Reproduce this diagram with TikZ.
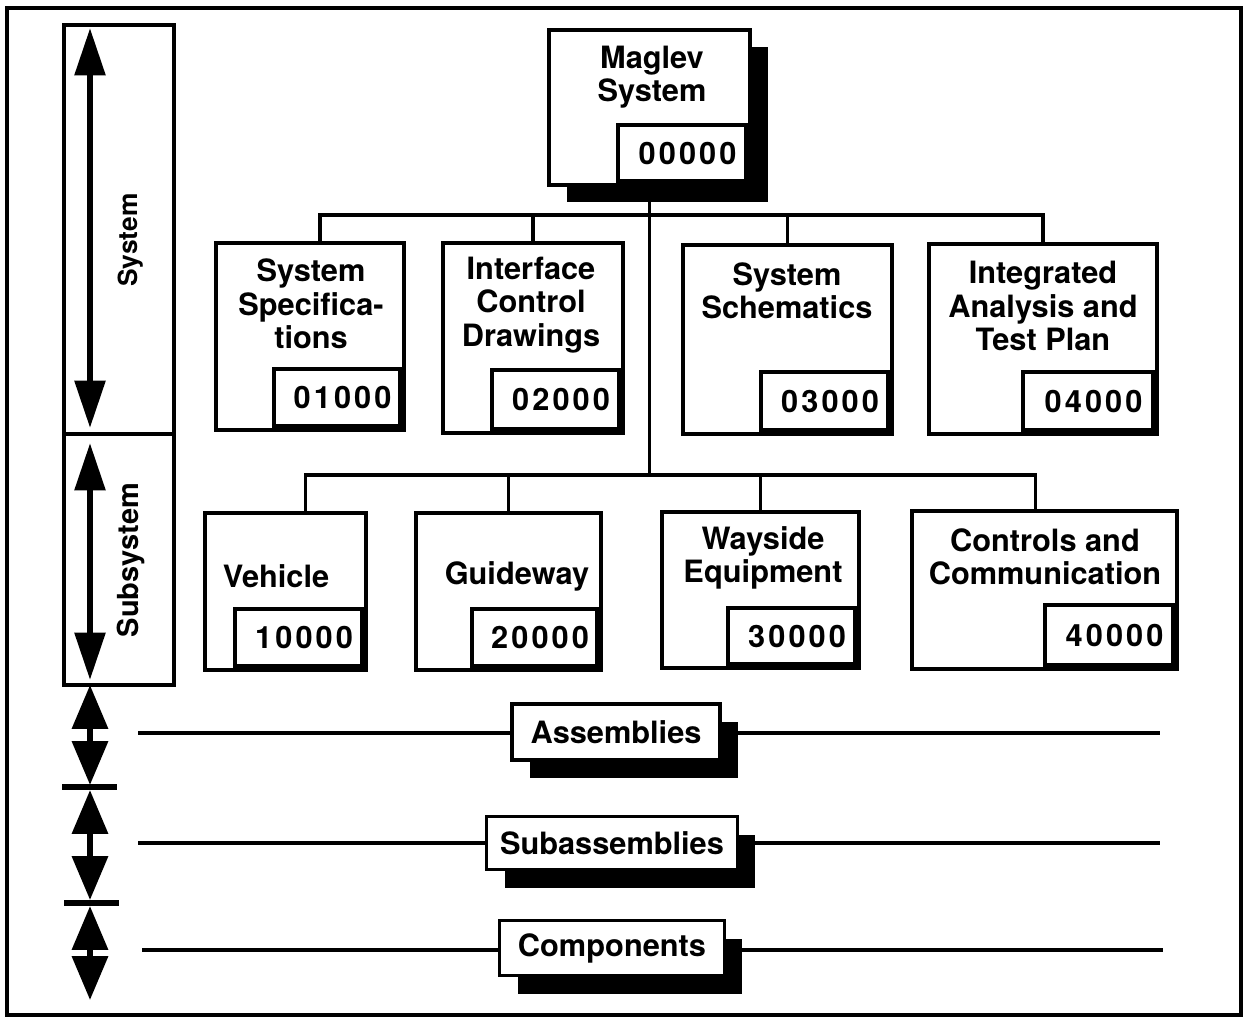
\documentclass[tikz,border=0pt]{standalone}
\usepackage{fontspec}
\setmainfont{TeX Gyre Heros}
\usetikzlibrary{
    arrows.meta,
    shadows
}

\newcommand{\titlefont}{\fontsize{17.5}{19}\selectfont\bfseries}
\newcommand{\numfont}{\fontsize{17.5}{19}\selectfont\bfseries\addfontfeature{LetterSpace=10}}

\tikzset{
    wbsbox/.style={draw, line width=2.2pt, fill=white, anchor=north west, inner sep=0pt},
    numbox/.style={draw, line width=2.2pt, fill=white, anchor=south east, inner sep=0pt, font=\numfont,
        execute at begin node=\hspace*{0.22cm}},
    wbstitle/.style={align=center, font=\titlefont, inner sep=0pt},
    conn/.style={line width=2pt},
    tierbox/.style={draw, line width=2.2pt, fill=white, inner sep=0pt, font=\titlefont,
        drop shadow={shadow xshift=0.36cm, shadow yshift=-0.36cm, fill=black, opacity=1}},
    bigarrow/.style={line width=3.5pt, {Triangle[width=17pt,length=27pt]}-{Triangle[width=17pt,length=27pt]}},
    smallarrow/.style={line width=3.5pt, {Triangle[width=20pt,length=25pt]}-{Triangle[width=20pt,length=25pt]}}
}

\begin{document}
\begin{tikzpicture}[x=0.02cm, y=-0.02cm]

\useasboundingbox (0,0) rectangle (1245,1019);

% Frame
\draw[line width=2.2pt] (7,8) rectangle (1241,1015);

% Level column
\node[wbsbox, minimum width=2.2cm, minimum height=8.18cm] (sysbox) at (62,23) {};
\node[wbsbox, minimum width=2.2cm, minimum height=5.02cm] (subbox) at (62,432) {};
\node[rotate=90, font=\fontsize{15}{17}\selectfont\bfseries] (systxt) at (131,240) {System};
\node[rotate=90, font=\fontsize{16.5}{18}\selectfont\bfseries] (subtxt) at (131,560) {Subsystem};

\coordinate (a1) at (90,28);
\coordinate (a2) at (90,428);
\coordinate (a3) at (90,443);
\coordinate (a4) at (90,680);
\coordinate (a5) at (90,685);
\coordinate (a6) at (90,785);
\coordinate (a7) at (90,790);
\coordinate (a8) at (90,900);
\coordinate (a9) at (90,906);
\coordinate (a10) at (90,1000);
\draw[bigarrow] (a1) -- (a2);
\draw[bigarrow] (a3) -- (a4);
\draw[smallarrow] (a5) -- (a6);
\draw[smallarrow] (a7) -- (a8);
\draw[smallarrow] (a9) -- (a10);

% Separators
\draw[line width=3pt] (62,787) -- (117,787);
\draw[line width=3pt] (64,903) -- (119,903);

% Top box
\node[wbsbox, minimum width=4.02cm, minimum height=3.10cm,
    drop shadow={shadow xshift=0.36cm, shadow yshift=-0.34cm, fill=black, opacity=1}] (mag) at (547,28) {};
\node[numbox, minimum width=2.56cm, minimum height=1.12cm] (mag-n) at (748,183) {00000};
\node[wbstitle] (mag-t) at (652,77) {Maglev\\System};

% System row
\node[wbsbox, minimum width=3.76cm, minimum height=3.74cm] (spec) at (214,241) {};
\node[numbox, minimum width=2.52cm, minimum height=1.14cm] (spec-n) at (402,428) {01000};
\node[wbstitle] (spec-t) at (311,304) {System\\Specifica-\\tions};

\node[wbsbox, minimum width=3.60cm, minimum height=3.80cm] (icd) at (441,241) {};
\node[numbox, minimum width=2.54cm, minimum height=1.18cm] (icd-n) at (621,431) {02000};
\node[wbstitle] (icd-t) at (531,305) {Interface\\Control\\Drawings};

\node[wbsbox, minimum width=4.18cm, minimum height=3.78cm] (schem) at (681,243) {};
\node[numbox, minimum width=2.54cm, minimum height=1.16cm] (schem-n) at (890,432) {03000};
\node[wbstitle] (schem-t) at (787,291) {System\\Schematics};

\node[wbsbox, minimum width=4.56cm, minimum height=3.80cm] (iatp) at (927,242) {};
\node[numbox, minimum width=2.60cm, minimum height=1.16cm] (iatp-n) at (1155,432) {04000};
\node[wbstitle] (iatp-t) at (1043,306) {Integrated\\Analysis and\\Test Plan};

% Subsystem row
\node[wbsbox, minimum width=3.22cm, minimum height=3.14cm] (veh) at (203,511) {};
\node[numbox, minimum width=2.54cm, minimum height=1.14cm] (veh-n) at (364,668) {10000};
\node[wbstitle] (veh-t) at (276,576) {Vehicle};

\node[wbsbox, minimum width=3.70cm, minimum height=3.14cm] (guide) at (414,511) {};
\node[numbox, minimum width=2.50cm, minimum height=1.14cm] (guide-n) at (599,668) {20000};
\node[wbstitle] (guide-t) at (517,576) {Guideway};

\node[wbsbox, minimum width=3.94cm, minimum height=3.12cm] (way) at (660,510) {};
\node[numbox, minimum width=2.54cm, minimum height=1.12cm] (way-n) at (857,666) {30000};
\node[wbstitle] (way-t) at (763,558) {Wayside\\Equipment};

\node[wbsbox, minimum width=5.30cm, minimum height=3.16cm] (ctrl) at (910,509) {};
\node[numbox, minimum width=2.56cm, minimum height=1.20cm] (ctrl-n) at (1175,667) {40000};
\node[wbstitle] (ctrl-t) at (1045,557) {Controls and\\Communication};

% Tree lines
\coordinate (bus1) at (mag.south |- 0,215);
\coordinate (bus2) at (mag.south |- 0,475);
\draw[conn] (mag.south) -- (bus2);
\draw[conn] ([xshift=0.2cm]spec.north) |- (iatp.north |- bus1) -- (iatp.north);
\draw[conn] (icd.north) -- (icd.north |- bus1);
\draw[conn] (schem.north) -- (schem.north |- bus1);
\draw[conn] ([xshift=0.4cm]veh.north) |- ([xshift=-0.18cm]ctrl.north |- bus2) -- ([xshift=-0.18cm]ctrl.north);
\draw[conn] (guide.north) -- (guide.north |- bus2);
\draw[conn] (way.north) -- (way.north |- bus2);

% Lower levels
\node[tierbox, minimum width=4.16cm, minimum height=1.12cm] (assem) at (616,732) {Assemblies};
\node[tierbox, minimum width=5.02cm, minimum height=1.06cm] (subas) at (612,843) {Subassemblies};
\node[tierbox, minimum width=4.50cm, minimum height=1.10cm] (comp) at (612,948) {Components};

\coordinate (assem-l) at (138,733);
\coordinate (assem-r) at (1160,733);
\coordinate (subas-l) at (138,843);
\coordinate (subas-r) at (1160,843);
\coordinate (comp-l) at (142,950);
\coordinate (comp-r) at (1163,950);
\draw[conn] (assem-l) -- (assem.west |- assem-l);
\draw[conn] (assem.east |- assem-r) -- (assem-r);
\draw[conn] (subas-l) -- (subas.west |- subas-l);
\draw[conn] (subas.east |- subas-r) -- (subas-r);
\draw[conn] (comp-l) -- (comp.west |- comp-l);
\draw[conn] (comp.east |- comp-r) -- (comp-r);

\end{tikzpicture}
\end{document}
